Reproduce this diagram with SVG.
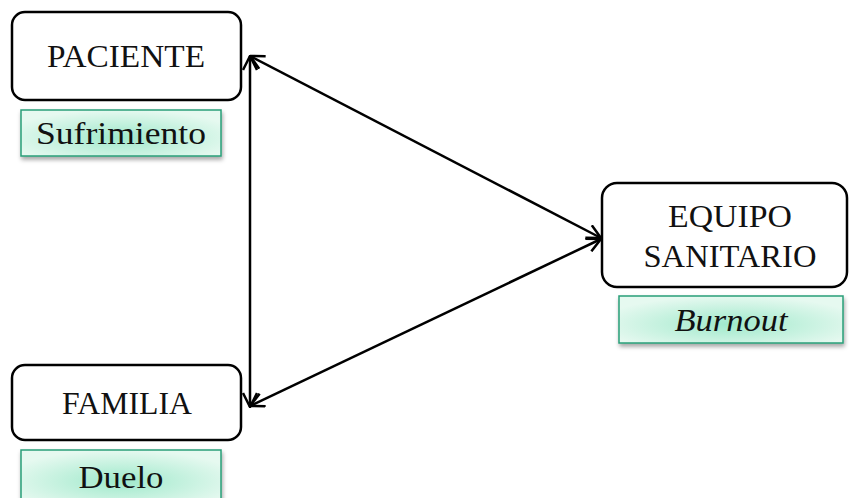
<svg xmlns="http://www.w3.org/2000/svg" width="849" height="498" viewBox="0 0 849 498">
<style>
.box{fill:#fff;stroke:#000;stroke-width:2.5}
.tag{fill:url(#g);stroke:#2a9e78;stroke-width:1.5;filter:url(#sh)}
.t{font-family:"Liberation Serif","DejaVu Serif",serif;font-size:31px;fill:#111;text-anchor:middle}
.c{stroke:#000;stroke-width:2.5;fill:none;marker-start:url(#a);marker-end:url(#a)}
</style>
<defs>
<radialGradient id="g" cx="0.5" cy="0.6" r="0.6">
<stop offset="0" stop-color="#9fe9cb"/>
<stop offset="1" stop-color="#e6f9f0"/>
</radialGradient>
<filter id="sh" x="-10%" y="-20%" width="120%" height="160%">
<feDropShadow dx="1" dy="3" stdDeviation="2" flood-color="#000" flood-opacity="0.35"/>
</filter>
<marker id="a" viewBox="0 0 16 16" refX="15" refY="8" markerWidth="16" markerHeight="16" markerUnits="userSpaceOnUse" orient="auto-start-reverse">
<path d="M1,1 L15,8 L1,15" fill="none" stroke="#000" stroke-width="2.5"/>
</marker>
</defs>
<g id="connectors">
<line class="c" x1="250" y1="56" x2="250" y2="407"/>
<line class="c" x1="250" y1="56" x2="601" y2="238"/>
<line class="c" x1="601" y1="239" x2="250" y2="406"/>
</g>
<g id="paciente">
<rect class="box" x="12" y="12" width="229" height="88" rx="13"/>
<text class="t" x="126" y="67" textLength="158" lengthAdjust="spacingAndGlyphs">PACIENTE</text>
</g>
<g id="sufrimiento">
<rect class="tag" x="21" y="110" width="200" height="46"/>
<text class="t" x="121" y="144" textLength="170" lengthAdjust="spacingAndGlyphs">Sufrimiento</text>
</g>
<g id="equipo">
<rect class="box" x="602" y="183" width="245" height="104" rx="15"/>
<text class="t" x="730" y="227" textLength="124" lengthAdjust="spacingAndGlyphs">EQUIPO</text>
<text class="t" x="730" y="267" textLength="173" lengthAdjust="spacingAndGlyphs">SANITARIO</text>
</g>
<g id="burnout">
<rect class="tag" x="619" y="296" width="224" height="47"/>
<text class="t" x="731" y="331" font-style="italic" textLength="113" lengthAdjust="spacingAndGlyphs">Burnout</text>
</g>
<g id="familia">
<rect class="box" x="12" y="365" width="229" height="75" rx="13"/>
<text class="t" x="127" y="414" textLength="130" lengthAdjust="spacingAndGlyphs">FAMILIA</text>
</g>
<g id="duelo">
<rect class="tag" x="21" y="450" width="200" height="52"/>
<text class="t" x="121" y="488" textLength="85" lengthAdjust="spacingAndGlyphs">Duelo</text>
</g>
</svg>
